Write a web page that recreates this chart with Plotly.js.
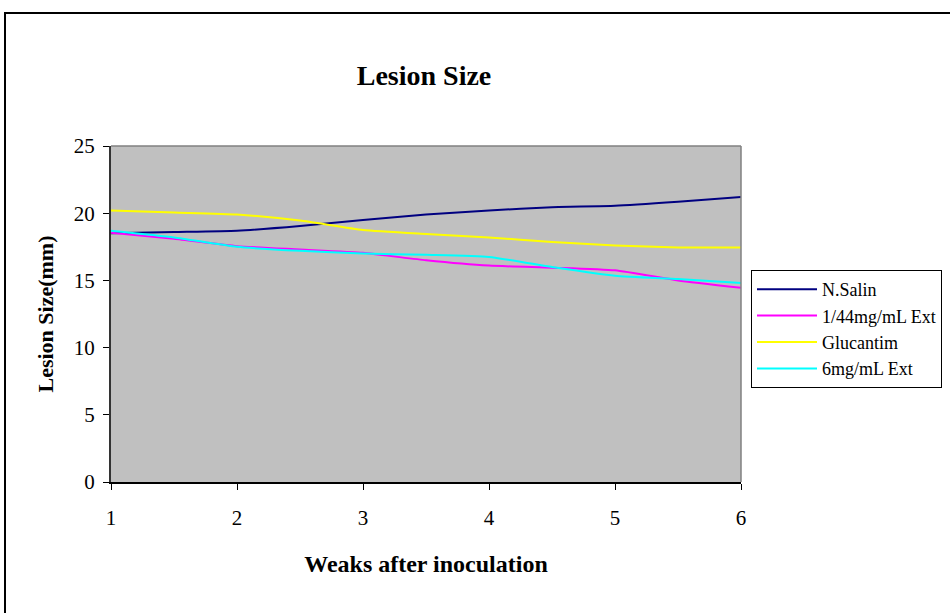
<!DOCTYPE html>
<html>
<head>
<meta charset="utf-8">
<script src="https://cdn.plot.ly/plotly-3.0.1.min.js"></script>
<style>
html,body{margin:0;padding:0;background:#fff;}
#chart{width:950px;height:613px;}
</style>
</head>
<body>
<div id="chart"></div>
<script>
const weeks = [1, 1.5, 2, 2.5, 3, 3.5, 4, 4.5, 5, 5.5, 6];
const nSalin = [18.5, 18.6, 18.7, 19.05, 19.5, 19.9, 20.2, 20.45, 20.55, 20.85, 21.2];
const ext144 = [18.55, 18.1, 17.55, 17.3, 17.05, 16.5, 16.1, 15.95, 15.75, 15.0, 14.45];
const glucantim = [20.2, 20.05, 19.9, 19.45, 18.75, 18.45, 18.2, 17.85, 17.6, 17.45, 17.45];
const ext6 = [18.7, 18.2, 17.5, 17.2, 17.0, 16.9, 16.75, 16.0, 15.35, 15.1, 14.8];
const seriesNames = ["N.Salin", "1/44mg/mL Ext", "Glucantim", "6mg/mL Ext"];
const xTicks = [1, 2, 3, 4, 5, 6];
const yTicks = [0, 5, 10, 15, 20, 25];

const colors = ["#000080", "#FF00FF", "#FFFF00", "#00FFFF"];
const seriesData = [nSalin, ext144, glucantim, ext6];
const FONT = "Liberation Serif, Times New Roman, serif";

const traces = seriesData.map((ys, i) => ({
  x: weeks, y: ys, name: seriesNames[i], type: 'scatter', mode: 'lines',
  line: {color: colors[i], width: 2, shape: 'spline', smoothing: 0.5},
  hoverinfo: 'x+y+name'
}));

const layout = {
  width: 950, height: 613,
  margin: {l: 111, r: 209, t: 146, b: 131, autoexpand: false},
  paper_bgcolor: '#ffffff',
  plot_bgcolor: '#C0C0C0',
  font: {family: FONT, color: '#000'},
  title: {text: '<b>Lesion Size</b>', font: {family: FONT, size: 28, color: '#000'},
          x: 424/950, xanchor: 'center', y: 1 - 75/613, yanchor: 'middle'},
  xaxis: {
    range: [1, 6], tickvals: xTicks, ticktext: xTicks.map(String),
    showgrid: false, zeroline: false, showline: true, linecolor: '#000', linewidth: 1.5,
    ticks: 'outside', ticklen: 6, tickcolor: '#000', tickwidth: 1,
    tickfont: {family: FONT, size: 21, color: '#000'}, ticklabelstandoff: 10,
    title: {text: '<b>Weaks after inoculation</b>', font: {family: FONT, size: 24, color: '#000'}, standoff: 26}
  },
  yaxis: {
    range: [0, 25], tickvals: yTicks, ticktext: yTicks.map(String),
    showgrid: false, zeroline: false, showline: true, linecolor: '#333', linewidth: 2,
    ticks: 'outside', ticklen: 6, tickcolor: '#000', tickwidth: 1,
    tickfont: {family: FONT, size: 21, color: '#000'}, ticklabelstandoff: 4,
    title: {text: '<b>Lesion Size(mm)</b>', font: {family: FONT, size: 22, color: '#000'}, standoff: 14}
  },
  legend: {
    x: (751-111)/630, xanchor: 'left', y: (482-270)/336, yanchor: 'top',
    bgcolor: '#ffffff', bordercolor: '#000', borderwidth: 1,
    font: {family: FONT, size: 18, color: '#000'}, tracegroupgap: 0, itemwidth: 60
  },
  shapes: [
    {type: 'line', xref: 'paper', yref: 'paper', x0: 0, x1: 1, y0: 1, y1: 1, line: {color: '#808080', width: 1.5}},
    {type: 'line', xref: 'paper', yref: 'paper', x0: 1, x1: 1, y0: 0, y1: 1, line: {color: '#808080', width: 1.5}},
    {type: 'rect', xref: 'paper', yref: 'paper', x0: (5-111)/630, x1: (1000-111)/630,
     y0: (482-650)/336, y1: 1 + (146-13)/336, line: {color: '#000', width: 2}, layer: 'below'}
  ],
  showlegend: true
};

Plotly.newPlot('chart', traces, layout, {staticPlot: true, displayModeBar: false});
</script>
</body>
</html>
